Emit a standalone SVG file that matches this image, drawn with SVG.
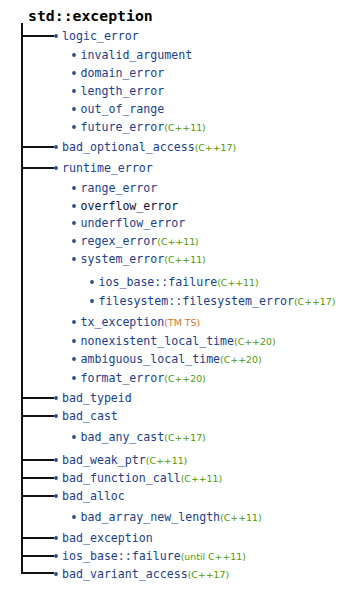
<svg xmlns="http://www.w3.org/2000/svg" width="350" height="593" viewBox="0 0 350 593">
<style>
text{font-family:"DejaVu Sans Mono","Liberation Mono",monospace;font-size:11.6px;fill:#21408c}
.title{font-size:14.8px;font-weight:bold;fill:#000}
.dk{fill:#101035}
.v{font-family:"DejaVu Sans","Liberation Sans",sans-serif;font-size:9.4px;fill:#4e9a06}
.ts{fill:#d07830}
.b{fill:#2a4a80}
.c{stroke:#111;stroke-width:2;fill:none}
</style>
<rect width="350" height="593" fill="#fff"/>
<text class="title" x="28" y="21">std::exception</text>
<g id="connectors">
<path class="c" d="M22 23V573"/>
<path class="c" d="M21 36H54M21 147H54M21 168H54M21 398H54M21 416H54M21 460H54M21 478H54M21 496H54M21 538H54M21 556H54M21 573H54"/>
</g>
<g id="logic_error"><circle class="b" cx="56" cy="36" r="1.9"/><text x="62" y="40">logic_error</text></g>
<g id="invalid_argument"><circle class="b" cx="74" cy="55" r="1.9"/><text x="80.5" y="59">invalid_argument</text></g>
<g id="domain_error"><circle class="b" cx="74" cy="73" r="1.9"/><text x="80.5" y="77">domain_error</text></g>
<g id="length_error"><circle class="b" cx="74" cy="91" r="1.9"/><text x="80.5" y="95">length_error</text></g>
<g id="out_of_range"><circle class="b" cx="74" cy="109" r="1.9"/><text x="80.5" y="113">out_of_range</text></g>
<g id="future_error"><circle class="b" cx="74" cy="127" r="1.9"/><text x="80.5" y="131">future_error<tspan class="v">(C++11)</tspan></text></g>
<g id="bad_optional_access"><circle class="b" cx="56" cy="147" r="1.9"/><text x="62" y="151">bad_optional_access<tspan class="v">(C++17)</tspan></text></g>
<g id="runtime_error"><circle class="b" cx="56" cy="168" r="1.9"/><text x="62" y="172">runtime_error</text></g>
<g id="range_error"><circle class="b" cx="74" cy="188" r="1.9"/><text x="80.5" y="192">range_error</text></g>
<g id="overflow_error"><circle class="b" cx="74" cy="206" r="1.9"/><text class="dk" x="80.5" y="210">overflow_error</text></g>
<g id="underflow_error"><circle class="b" cx="74" cy="223" r="1.9"/><text x="80.5" y="227">underflow_error</text></g>
<g id="regex_error"><circle class="b" cx="74" cy="241" r="1.9"/><text x="80.5" y="245">regex_error<tspan class="v">(C++11)</tspan></text></g>
<g id="system_error"><circle class="b" cx="74" cy="259" r="1.9"/><text x="80.5" y="263">system_error<tspan class="v">(C++11)</tspan></text></g>
<g id="ios_base_failure_1"><circle class="b" cx="92" cy="282" r="1.9"/><text x="98.5" y="286">ios_base::failure<tspan class="v">(C++11)</tspan></text></g>
<g id="filesystem_error"><circle class="b" cx="92" cy="301" r="1.9"/><text x="98.5" y="305">filesystem::filesystem_error<tspan class="v">(C++17)</tspan></text></g>
<g id="tx_exception"><circle class="b" cx="74" cy="322" r="1.9"/><text x="80.5" y="326">tx_exception<tspan class="v ts">(TM TS)</tspan></text></g>
<g id="nonexistent_local_time"><circle class="b" cx="74" cy="341" r="1.9"/><text x="80.5" y="345">nonexistent_local_time<tspan class="v">(C++20)</tspan></text></g>
<g id="ambiguous_local_time"><circle class="b" cx="74" cy="359" r="1.9"/><text x="80.5" y="363">ambiguous_local_time<tspan class="v">(C++20)</tspan></text></g>
<g id="format_error"><circle class="b" cx="74" cy="378" r="1.9"/><text x="80.5" y="382">format_error<tspan class="v">(C++20)</tspan></text></g>
<g id="bad_typeid"><circle class="b" cx="56" cy="398" r="1.9"/><text x="62" y="402">bad_typeid</text></g>
<g id="bad_cast"><circle class="b" cx="56" cy="416" r="1.9"/><text x="62" y="420">bad_cast</text></g>
<g id="bad_any_cast"><circle class="b" cx="74" cy="437" r="1.9"/><text x="80.5" y="441">bad_any_cast<tspan class="v">(C++17)</tspan></text></g>
<g id="bad_weak_ptr"><circle class="b" cx="56" cy="460" r="1.9"/><text x="62" y="464">bad_weak_ptr<tspan class="v">(C++11)</tspan></text></g>
<g id="bad_function_call"><circle class="b" cx="56" cy="478" r="1.9"/><text x="62" y="482">bad_function_call<tspan class="v">(C++11)</tspan></text></g>
<g id="bad_alloc"><circle class="b" cx="56" cy="496" r="1.9"/><text x="62" y="500">bad_alloc</text></g>
<g id="bad_array_new_length"><circle class="b" cx="74" cy="517" r="1.9"/><text x="80.5" y="521">bad_array_new_length<tspan class="v">(C++11)</tspan></text></g>
<g id="bad_exception"><circle class="b" cx="56" cy="538" r="1.9"/><text x="62" y="542">bad_exception</text></g>
<g id="ios_base_failure_2"><circle class="b" cx="56" cy="556" r="1.9"/><text x="62" y="560">ios_base::failure<tspan class="v">(until C++11)</tspan></text></g>
<g id="bad_variant_access"><circle class="b" cx="56" cy="574" r="1.9"/><text x="62" y="578">bad_variant_access<tspan class="v">(C++17)</tspan></text></g>
</svg>
